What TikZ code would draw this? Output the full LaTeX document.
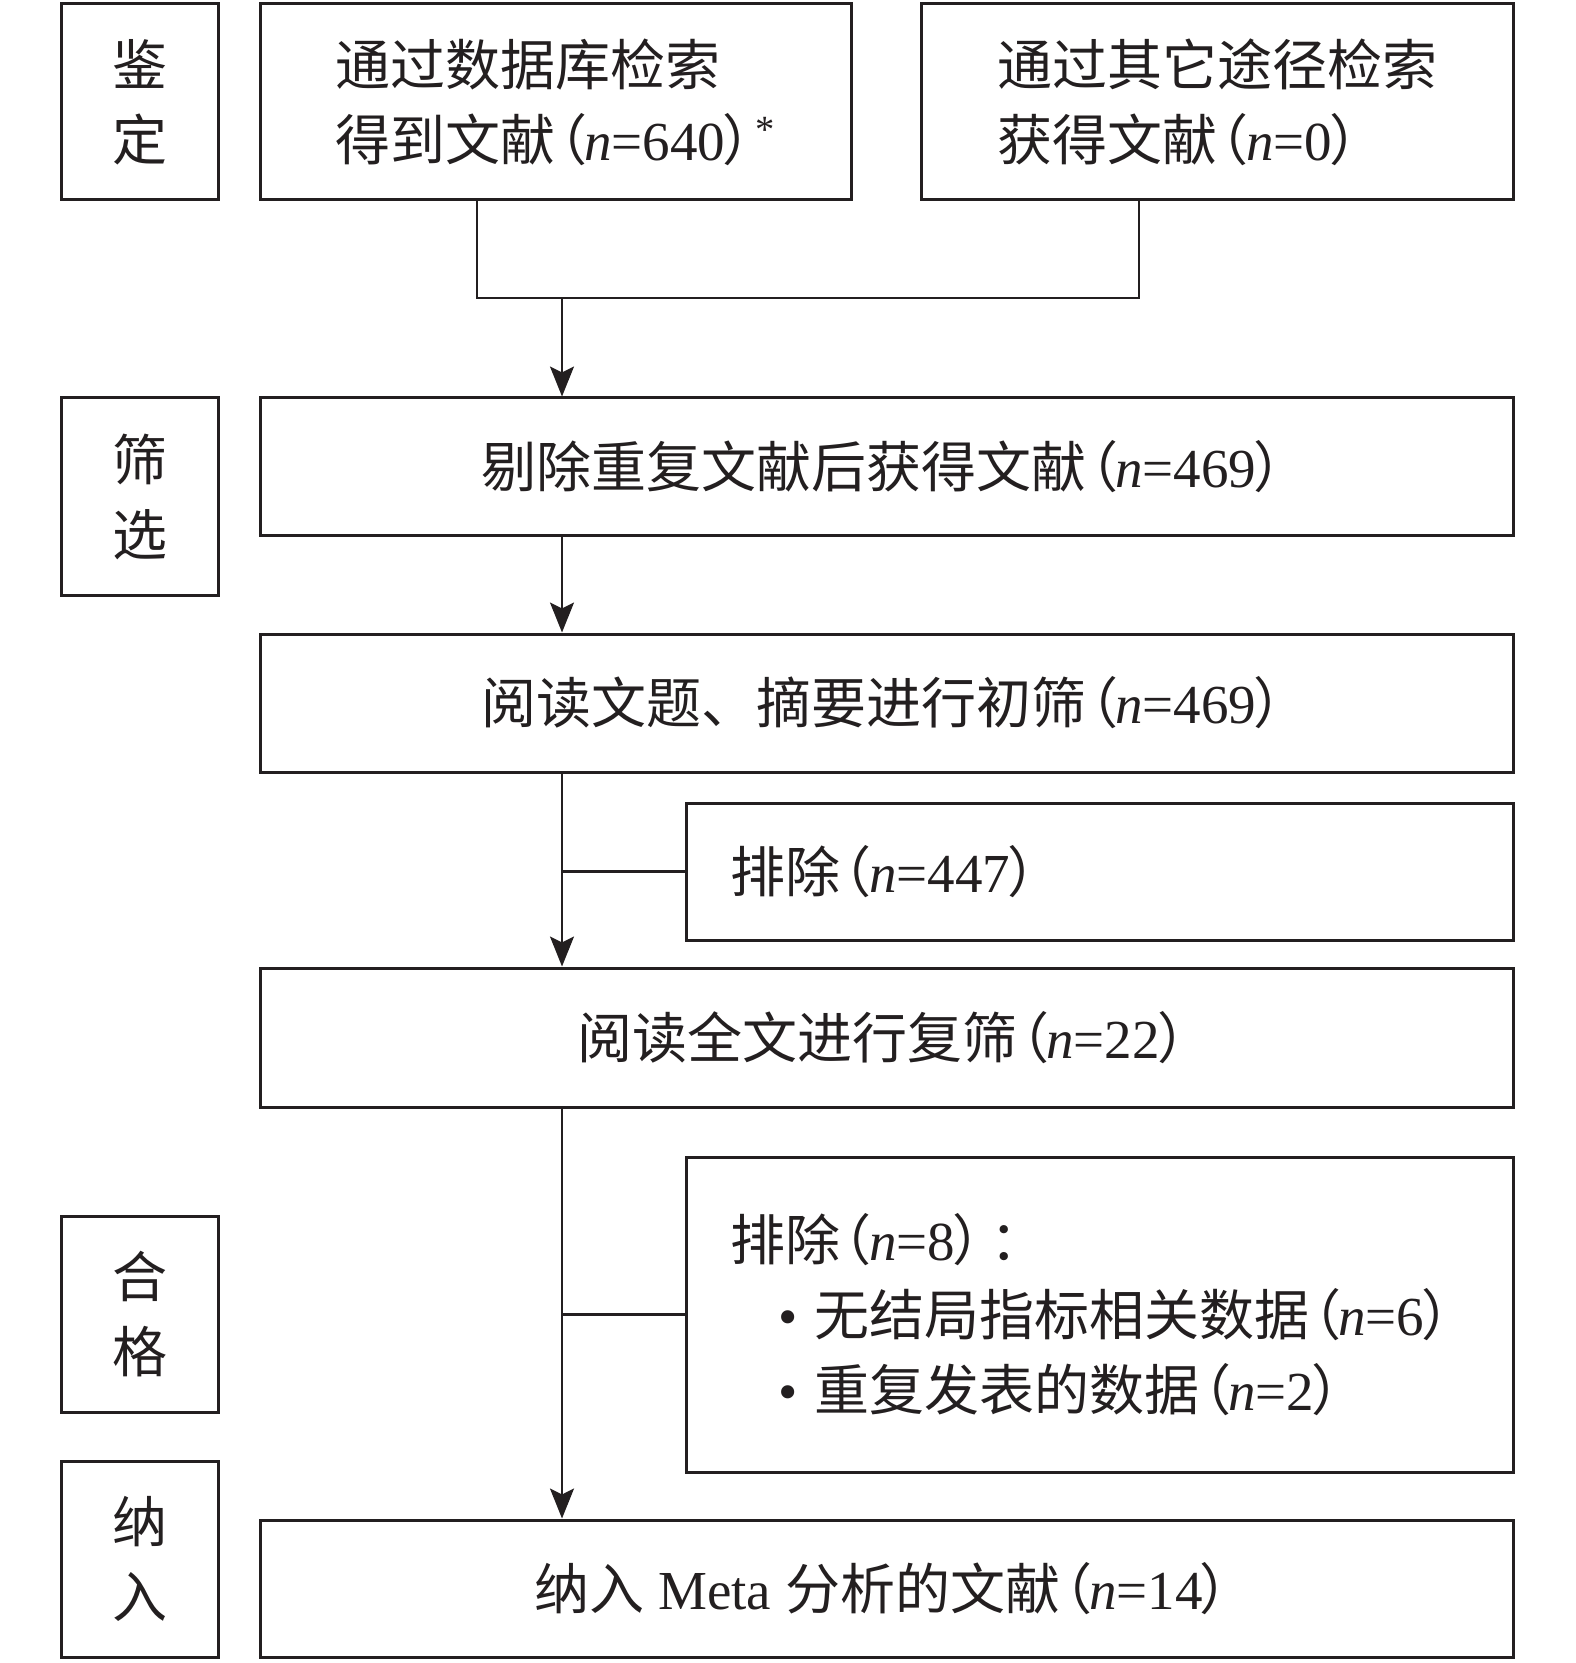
\documentclass[tikz,border=0pt]{standalone}
\usepackage{fontspec}
\setmainfont{Liberation Serif}
\newfontfamily\cjk{Noto Sans CJK SC}
\usetikzlibrary{arrows.meta}
\definecolor{ink}{HTML}{231F20}
\newcommand\lp{\kern-0.42em{\cjk （}\kern-0.05em}
\newcommand\rp{\kern-0.05em{\cjk ）}\kern-0.3em}
\newcommand\nv[1]{\lp{\rmfamily\itshape n}{\rmfamily =#1}\rp}
\begin{document}
\begin{tikzpicture}[x=0.5pt,y=-0.5pt,
  box/.style={draw=ink, line width=1.5pt, rectangle, inner sep=0pt,
    font=\cjk\fontsize{27.5}{37.5}\selectfont, text=ink, align=left},
  lab/.style={box, minimum width=78.5pt, minimum height=98pt, align=center},
  wide/.style={box, minimum width=626.5pt, minimum height=68.5pt, align=center},
  excl/.style={box, text width=369.5pt, inner xsep=22pt},
  conn/.style={draw=ink, line width=1.1pt},
  arr/.style={conn, -{Stealth[length=15pt,width=12pt,inset=3pt]}}]
\useasboundingbox (0,0) rectangle (1575,1663);

% stage labels
\node[lab] (L1) at (140,102) {鉴\\定};
\node[lab, minimum height=98.5pt] (L2) at (140,496.5) {筛\\选};
\node[lab] (L3) at (140,1314) {合\\格};
\node[lab] (L4) at (140,1559) {纳\\入};

% boxes
\node[box, minimum width=295.5pt, minimum height=98pt] (B1) at (555.5,102)
  {通过数据库检索\\得到文献\nv{640}\kern-0.1em{\rmfamily\textsuperscript{*}}};
\node[box, minimum width=296pt, minimum height=98pt] (B2) at (1217,102)
  {通过其它途径检索\\获得文献\nv{0}};
\node[wide] (B3) at (886.5,466.5) {剔除重复文献后获得文献\nv{469}};
\node[wide, minimum height=69pt] (B4) at (886.5,703) {阅读文题、摘要进行初筛\nv{469}};
\node[excl, minimum height=68.5pt] (E1) at (1099.5,871.5) {排除\nv{447}};
\node[wide, minimum height=69.5pt] (B5) at (886.5,1037.5) {阅读全文进行复筛\nv{22}};
\node[excl, minimum height=157.5pt] (E2) at (1099.5,1314.5)
  {\mbox{排除\nv{8}：}\\
   \mbox{\hspace*{24pt}{\rmfamily •}\hspace{8.5pt}无结局指标相关数据\nv{6}}\\
   \mbox{\hspace*{24pt}{\rmfamily •}\hspace{8.5pt}重复发表的数据\nv{2}}};
\node[wide] (B6) at (886.5,1588.5) {纳入{\rmfamily\ Meta\ }分析的文献\nv{14}};

% connectors
\coordinate (m1) at (477,298);
\coordinate (m2) at (1139,298);
\coordinate (mid) at (562,298);
\draw[conn] (B1.south -| m1) -- (m1) -- (m2) -- (B2.south -| m2);
\draw[arr] (mid) -- (B3.north -| mid);
\draw[arr] (B3.south -| mid) -- (B4.north -| mid);
\draw[arr] (B4.south -| mid) -- (B5.north -| mid);
\draw[conn] (E1.west) -- (E1.west -| mid);
\draw[arr] (B5.south -| mid) -- (B6.north -| mid);
\draw[conn] (E2.west) -- (E2.west -| mid);
\end{tikzpicture}
\end{document}
